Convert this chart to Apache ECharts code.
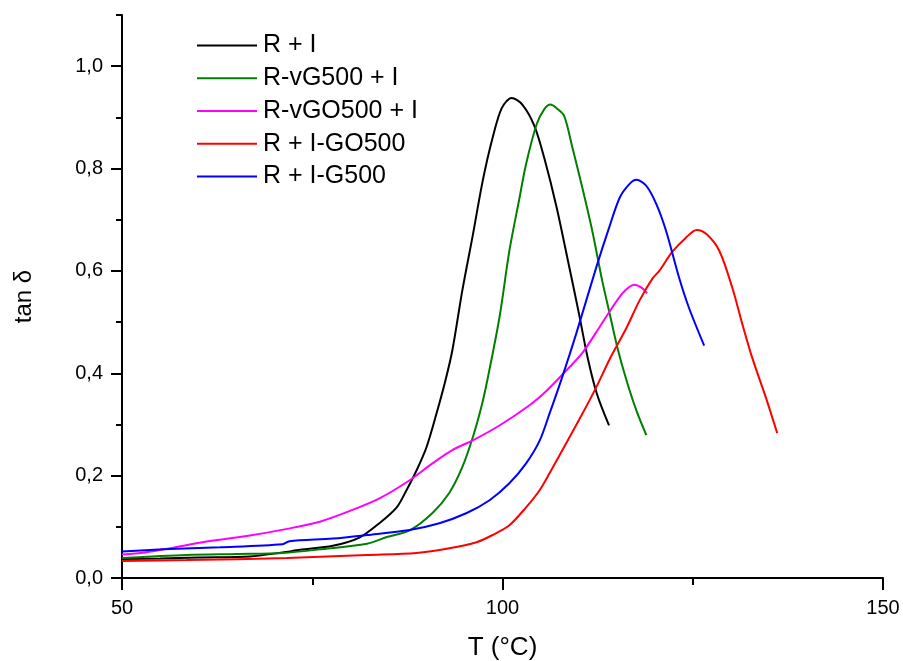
<!DOCTYPE html>
<html>
<head>
<meta charset="utf-8">
<script src="https://cdn.jsdelivr.net/npm/echarts@6/dist/echarts.min.js"></script>
<style>
html,body{margin:0;padding:0;background:#fff;}
#c{width:903px;height:661px;}
</style>
</head>
<body>
<div id="c"></div>
<script>
// ---- Data ----
const seriesNames = ['R + I', 'R-vG500 + I', 'R-vGO500 + I', 'R + I-GO500', 'R + I-G500'];
const seriesColors = ['#000000', '#008000', '#ff00ff', '#ff0000', '#0000ff'];

const rI_T   = [50, 55, 60, 66.8, 71.1, 73.4, 77.7, 81.2, 83.9, 86.1, 87.4, 88.7, 90.0, 91.3, 92.4, 93.4, 94.7, 96.1, 97.4, 98.7, 99.9, 101.2, 102.6, 104.2, 105.5, 107.1, 108.6, 110.0, 111.2, 112.4, 114.0];
const rI_tan = [0.037, 0.038, 0.040, 0.042, 0.050, 0.055, 0.063, 0.079, 0.108, 0.138, 0.172, 0.21, 0.255, 0.32, 0.38, 0.444, 0.56, 0.67, 0.776, 0.86, 0.918, 0.938, 0.925, 0.883, 0.82, 0.725, 0.62, 0.52, 0.43, 0.36, 0.298];

const rvG_T   = [50, 58.5, 65, 71.1, 76, 82.2, 84.8, 87.8, 90.8, 93.0, 94.7, 96.1, 97.2, 98.0, 99.6, 100.9, 102.2, 103.1, 104.5, 105.5, 106.3, 107.1, 108.1, 109.2, 110.5, 111.8, 113.1, 114.0, 115.1, 116.3, 117.6, 118.9];
const rvG_tan = [0.039, 0.045, 0.047, 0.049, 0.056, 0.067, 0.08, 0.093, 0.127, 0.166, 0.216, 0.275, 0.333, 0.386, 0.509, 0.639, 0.74, 0.809, 0.887, 0.916, 0.925, 0.918, 0.903, 0.84, 0.762, 0.678, 0.581, 0.522, 0.45, 0.386, 0.327, 0.279];

const rvGO_T   = [50, 53, 56.3, 60.6, 66.4, 71.7, 76.0, 80.3, 83.9, 87.8, 90.8, 93.4, 96.1, 99.6, 103.5, 105.8, 107.9, 110.5, 112.7, 114.4, 115.7, 116.6, 117.3, 118.4, 119.0];
const rvGO_tan = [0.046, 0.050, 0.058, 0.070, 0.082, 0.096, 0.11, 0.133, 0.156, 0.191, 0.224, 0.25, 0.269, 0.298, 0.337, 0.366, 0.398, 0.44, 0.489, 0.528, 0.555, 0.568, 0.573, 0.566, 0.556];

const rIGO_T   = [50, 58.5, 71.7, 82.2, 88.7, 93.0, 96.6, 98.7, 100.9, 103.1, 104.9, 106.2, 107.5, 110.1, 112.3, 114.0, 116.3, 118.0, 119.7, 120.6, 122.3, 124.1, 125.5, 126.8, 128.5, 130.2, 131.5, 132.8, 134.6, 136.1];
const rIGO_tan = [0.033, 0.035, 0.039, 0.045, 0.049, 0.058, 0.07, 0.084, 0.103, 0.138, 0.172, 0.205, 0.24, 0.31, 0.372, 0.425, 0.489, 0.542, 0.585, 0.6, 0.637, 0.665, 0.68, 0.672, 0.639, 0.567, 0.497, 0.431, 0.353, 0.283];

const rIG_T   = [50, 55.4, 62.9, 71.1, 72.0, 77.7, 82.2, 87.8, 91.7, 95.3, 98.3, 100.9, 103.1, 104.9, 106.2, 107.9, 109.7, 112.3, 114.0, 115.4, 116.7, 117.6, 118.9, 120.2, 121.5, 123.2, 124.5, 126.5];
const rIG_tan = [0.052, 0.056, 0.06, 0.066, 0.072, 0.077, 0.084, 0.094, 0.107, 0.127, 0.152, 0.185, 0.224, 0.269, 0.322, 0.395, 0.478, 0.606, 0.684, 0.743, 0.77, 0.778, 0.766, 0.731, 0.678, 0.587, 0.528, 0.454];

const xTicks = [50, 100, 150];
const yMajorTicks = [0, 0.2, 0.4, 0.6, 0.8, 1.0];
const yMinorTicks = [0.1, 0.3, 0.5, 0.7, 0.9, 1.1];

const seriesT = [rI_T, rvG_T, rvGO_T, rIGO_T, rIG_T];
const seriesTan = [rI_tan, rvG_tan, rvGO_tan, rIGO_tan, rIG_tan];

const FONT = '"Liberation Sans", Arial, sans-serif';

const chart = echarts.init(document.getElementById('c'), null, {renderer: 'canvas'});

const series = seriesNames.map((name, i) => ({
  name: name,
  type: 'line',
  xAxisIndex: 0,
  yAxisIndex: 0,
  data: seriesT[i].map((t, j) => [t, seriesTan[i][j]]),
  showSymbol: false,
  symbol: 'none',
  smooth: 0.3,
  lineStyle: {color: seriesColors[i], width: 2},
  itemStyle: {color: seriesColors[i]},
  animation: false
}));

const fmt = v => v.toFixed(1).replace('.', ',');

chart.setOption({
  animation: false,
  backgroundColor: '#ffffff',
  grid: {left: 122, right: 20, top: 15, bottom: 83, containLabel: false, outerBoundsMode: 'none'},
  legend: {
    orient: 'vertical',
    left: 197,
    top: 33,
    padding: 0,
    itemWidth: 60,
    itemHeight: 25,
    itemGap: 7.75,
    icon: 'path://M0,12 L60,12 L60,14 L0,14 Z',
    data: seriesNames.map((n, i) => ({name: n, itemStyle: {color: seriesColors[i]}})),
    textStyle: {fontFamily: FONT, fontSize: 25, color: '#000', lineHeight: 25, padding: [0, 0, 0, 1]}
  },
  xAxis: {
    type: 'value',
    min: xTicks[0],
    max: xTicks[xTicks.length - 1],
    interval: 50,
    name: 'T (°C)',
    nameLocation: 'middle',
    nameGap: 57,
    nameTextStyle: {fontFamily: FONT, fontSize: 26, color: '#000'},
    axisLine: {show: true, lineStyle: {color: '#000', width: 2}},
    axisTick: {show: true, inside: false, length: 12, lineStyle: {color: '#000', width: 2}},
    minorTick: {show: true, splitNumber: 2, length: 7, lineStyle: {color: '#000', width: 2}},
    axisLabel: {fontFamily: FONT, fontSize: 20, color: '#000', margin: 20},
    splitLine: {show: false},
    minorSplitLine: {show: false}
  },
  yAxis: [{
    type: 'value',
    min: 0,
    max: 1.1,
    position: 'left',
    name: 'tan δ',
    nameLocation: 'middle',
    nameGap: 86,
    nameRotate: 90,
    nameTextStyle: {fontFamily: FONT, fontSize: 24, color: '#000'},
    axisLine: {show: true, lineStyle: {color: '#000', width: 2}},
    axisTick: {show: true, inside: false, length: 11, customValues: yMajorTicks, lineStyle: {color: '#000', width: 2}},
    axisLabel: {fontFamily: FONT, fontSize: 20, color: '#000', margin: 19, customValues: yMajorTicks, formatter: fmt},
    splitLine: {show: false}
  }, {
    type: 'value',
    min: 0,
    max: 1.1,
    position: 'left',
    axisLine: {show: false},
    axisTick: {show: true, inside: false, length: 6, customValues: yMinorTicks, lineStyle: {color: '#000', width: 2}},
    axisLabel: {show: false},
    splitLine: {show: false}
  }],
  series: series
});
</script>
</body>
</html>
